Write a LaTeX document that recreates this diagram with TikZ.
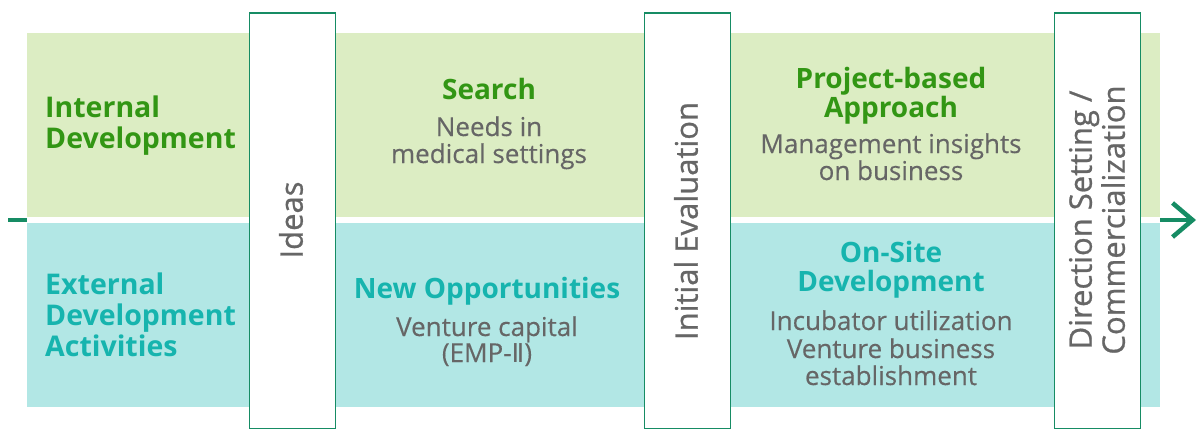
\documentclass[tikz,border=0pt]{standalone}
\usepackage{fontspec}
\setmainfont{Open Sans}
\newfontfamily\numfont{DejaVu Sans}
\newfontfamily\medfont[FakeBold=0.8]{Open Sans}
\newfontfamily\graytextfont[FakeBold=0.3]{Open Sans}
\usetikzlibrary{arrows.meta}
\definecolor{bandgreen}{RGB}{220,237,195}
\definecolor{bandcyan}{RGB}{178,231,229}
\definecolor{titlegreen}{RGB}{50,150,20}
\definecolor{titleteal}{RGB}{22,180,174}
\definecolor{txtgray}{RGB}{102,102,102}
\definecolor{boxline}{RGB}{22,140,100}
\tikzset{
  band/.style={draw=none, inner sep=0pt, minimum width=1133pt, minimum height=184pt, anchor=north west},
  stagebox/.style={draw=boxline, line width=1.5pt, fill=white, inner sep=0pt, minimum width=86pt, minimum height=415pt, anchor=north west},
  rowtitle/.style={anchor=base west, inner sep=0pt, font=\fontsize{28.5}{31}\selectfont\bfseries},
  celltitle/.style={anchor=base, inner sep=0pt, font=\fontsize{28}{30}\selectfont\bfseries},
  celltext/.style={anchor=base, inner sep=0pt, text=txtgray, font=\graytextfont\fontsize{26}{28}\selectfont},
  stagetext/.style={rotate=90, inner sep=0pt, align=center, text=txtgray, font=\medfont\fontsize{31}{33}\selectfont},
  flow/.style={draw=boxline, line width=4.5pt}
}
\begin{document}
\begin{tikzpicture}[x=1pt, y=-1pt]
\useasboundingbox (0,0) rectangle (1198,428);
% bands
\node[band, fill=bandgreen] (inner) at (27,33) {};
\node[band, fill=bandcyan] (outer) at (27,223) {};
% flow line
\coordinate (fstart) at (8,220);
\coordinate (fin) at (27,220);
\coordinate (fout) at (1160,220);
\coordinate (fend) at (1196,220);
\draw[flow] (fstart) -- (fin);
\draw[flow, -{Straight Barb[length=20pt, width=34pt, line width=4.5pt]}] (fout) -- (fend);
% stage boxes
\node[stagebox] (ideas) at (248.5,12.5) {};
\node[stagebox] (initial) at (643.5,12.5) {};
\node[stagebox] (direction) at (1053.5,12.5) {};
\node[stagetext] (ideastxt) at (291,220) {Ideas};
\node[stagetext] (initialtxt) at (686,221) {Initial Evaluation};
\node[stagetext] (directiontxt) at (1097,220) {Direction Setting /\\Commercialization};
% row titles
\node[rowtitle, text=titlegreen] (int1) at (45,117) {Internal};
\node[rowtitle, text=titlegreen] (int2) at (45,148) {Development};
\node[rowtitle, text=titleteal] (ext1) at (45,294) {External};
\node[rowtitle, text=titleteal] (ext2) at (45,325) {Development};
\node[rowtitle, text=titleteal] (ext3) at (45,356) {Activities};
% cells
\node[celltitle, text=titlegreen] (search) at (489,99) {Search};
\node[celltext] (search1) at (489,136) {Needs in};
\node[celltext] (search2) at (489,163) {medical settings};
\node[celltitle, text=titlegreen] (proj1) at (891,88) {Project-based};
\node[celltitle, text=titlegreen] (proj2) at (891,117) {Approach};
\node[celltext] (proj3) at (891,153) {Management insights};
\node[celltext] (proj4) at (891,180) {on business};
\node[celltitle, text=titleteal] (newopp) at (487,298) {New Opportunities};
\node[celltext] (newopp1) at (487,336) {Venture capital};
\node[celltext] (newopp2) at (487,362) {(EMP-{\numfont Ⅱ})};
\node[celltitle, text=titleteal] (onsite1) at (891,262) {On-Site};
\node[celltitle, text=titleteal] (onsite2) at (891,291) {Development};
\node[celltext] (onsite3) at (891,330) {Incubator utilization};
\node[celltext] (onsite4) at (891,358) {Venture business};
\node[celltext] (onsite5) at (891,385) {establishment};
\end{tikzpicture}
\end{document}
